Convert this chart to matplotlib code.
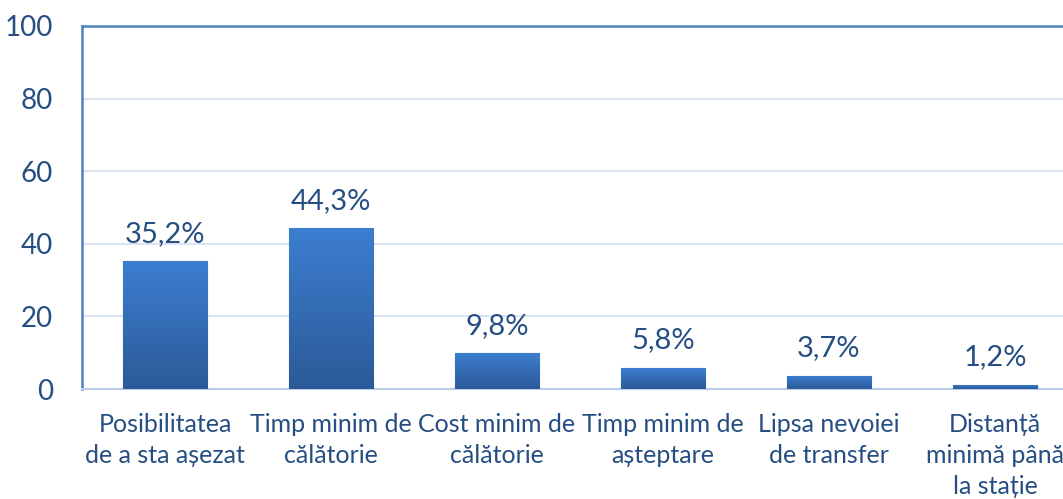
import matplotlib.pyplot as plt
import numpy as np
from matplotlib.colors import LinearSegmentedColormap

categories = [
    "Posibilitatea\nde a sta așezat",
    "Timp minim de\ncălătorie",
    "Cost minim de\ncălătorie",
    "Timp minim de\nașteptare",
    "Lipsa nevoiei\nde transfer",
    "Distanță\nminimă până\nla stație",
]
values = [35.2, 44.3, 9.8, 5.8, 3.7, 1.2]
value_labels = ["35,2%", "44,3%", "9,8%", "5,8%", "3,7%", "1,2%"]
y_ticks = [0, 20, 40, 60, 80, 100]

text_color = "#264E82"
plt.rcParams["font.family"] = ["Lato", "DejaVu Sans"]

fig = plt.figure(figsize=(10.63, 4.99), dpi=100)
ax = fig.add_axes([0.0771, 0.2204, 0.937, 0.7275])

x = np.arange(len(categories))
bars = ax.bar(x, values, width=0.51, color="#3570BA", zorder=3)

# vertical gradient on each bar
grad = LinearSegmentedColormap.from_list("g", ["#2C5A98", "#3C7ED0"])
gimg = np.linspace(0, 1, 256).reshape(-1, 1)
for b in bars:
    bx, by = b.get_x(), b.get_y()
    w, h = b.get_width(), b.get_height()
    im = ax.imshow(gimg, cmap=grad, aspect="auto", origin="lower",
                   extent=[bx, bx + w, by, by + h], zorder=4)
    im.set_clip_path(b)
    b.set_edgecolor("#5B8AC8")
    b.set_linewidth(0.8)

for xi, v, lab in zip(x, values, value_labels):
    ax.annotate(lab, (xi, v), xytext=(0, 14), textcoords="offset points",
                ha="center", va="baseline", fontsize=21, color=text_color)

ax.set_xlim(-0.5, len(categories) - 0.5)
ax.set_ylim(0, 100)
ax.set_yticks(y_ticks)
ax.set_xticks(x)
ax.set_xticklabels(categories, fontsize=18, color=text_color, linespacing=1.42)
ax.tick_params(axis="y", length=0, pad=21, labelsize=20, labelcolor=text_color)
ax.tick_params(axis="x", length=0, pad=17)
for lab in ax.get_xticklabels():
    lab.set_verticalalignment("top")

ax.grid(axis="y", color="#D5E0F0", linewidth=1.3, zorder=0)
ax.set_axisbelow(True)
for side in ["left", "top", "right"]:
    ax.spines[side].set_color("#4F81BD")
    ax.spines[side].set_linewidth(1.8)
ax.spines["bottom"].set_color("#B9CDE8")
ax.spines["bottom"].set_linewidth(1.5)

fig.savefig("out.png", dpi=100)
